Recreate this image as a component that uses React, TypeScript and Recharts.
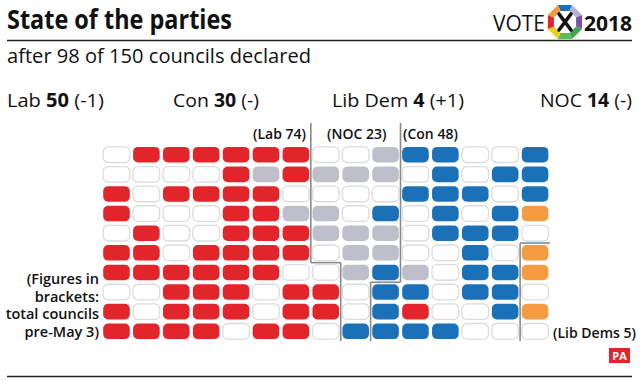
import React from 'react';
import { ScatterChart, Scatter, XAxis, YAxis, ReferenceLine } from 'recharts';

// Each string is one row of the waffle, one letter per council (15 columns, 10 rows)
// R = Lab, B = Con, G = NOC, O = Lib Dem, W = not yet declared
const gridRows = [
  'WRRRRRRWWGBBWWB',
  'WWWWRGRGGGWBWBB',
  'RWRRRRWWWWBBBWB',
  'RWWWRRGGWBWBWBO',
  'WRWWRRRGGGWBBBW',
  'RRWRRRRWGGWWBWO',
  'RRRRRRWWGBGWBBO',
  'WWRRRWRRWBBWBBW',
  'RWRRRWRRWBRWWBO',
  'RRRRWRRWBBBBWWW',
];
const partyCodes = ['W', 'R', 'B', 'G', 'O'];
const partyNames = ['Undeclared', 'Lab', 'Con', 'NOC', 'Lib Dem'];
const partyFills = ['#ffffff', '#e2252b', '#1b71b8', '#bfbecb', '#f59c42'];
const partyStrokes = ['#dcdcdc', '#e2252b', '#1b71b8', '#bfbecb', '#f59c42'];

const headlineParties = ['Lab', 'Con', 'Lib Dem', 'NOC'];
const headlineSeats = ['50', '30', '4', '14'];
const headlineChange = ['(-1)', '(-)', '(+1)', '(-)'];

// previous-control region boundaries in grid units
const labBoundary = [
  [7.5, -0.62, 7.5, 6.5],
  [7.5, 6.5, 8.5, 6.5],
  [8.5, 6.5, 8.5, 10.5],
];
const nocBoundary = [
  [10.5, -0.62, 10.5, 7.5],
  [10.5, 7.5, 9.5, 7.5],
  [9.5, 7.5, 9.5, 10.5],
];
const ldBoundary = [
  [14.5, 5.5, 14.5, 10.5],
  [14.5, 5.5, 15.5, 5.5],
];

const seriesData = partyCodes.map((code) => {
  const pts: { col: number; row: number }[] = [];
  gridRows.forEach((r, ri) => {
    r.split('').forEach((c, ci) => {
      if (c === code) pts.push({ col: ci + 1, row: ri + 1 });
    });
  });
  return pts;
});

const FONT = "'Open Sans', 'Noto Sans', sans-serif";

const makeShape = (fill: string, stroke: string) => (props: any) => {
  const { cx, cy } = props;
  if (cx == null || cy == null) return <g />;
  return (
    <rect
      x={cx - 13.3}
      y={cy - 7.8}
      width={26.6}
      height={15.6}
      rx={5}
      ry={5}
      fill={fill}
      stroke={stroke}
      strokeWidth={fill === '#ffffff' ? 1.3 : 0}
    />
  );
};

const Logo = () => {
  const cx = 565;
  const cy = 22;
  const ro = 18.5;
  const ri = 12;
  const cols = ['#1b71b8', '#b9b0d6', '#7b52a0', '#3ea653', '#5db95a', '#e6d21e', '#e2252b', '#f39a3c'];
  const pt = (r: number, a: number) => [cx + r * Math.cos(a), cy + r * Math.sin(a)];
  const segs = cols.map((c, k) => {
    const a0 = ((-112.5 + 45 * k) * Math.PI) / 180;
    const a1 = ((-67.5 + 45 * k) * Math.PI) / 180;
    const p = [pt(ro, a0), pt(ro, a1), pt(ri, a1), pt(ri, a0)];
    return <polygon key={k} points={p.map((q) => q.join(',')).join(' ')} fill={c} />;
  });
  return (
    <g>
      {segs}
      <path d={`M${cx - 6},${cy - 8} L${cx + 6},${cy + 8} M${cx + 6},${cy - 8} L${cx - 6},${cy + 8}`} stroke="#111" strokeWidth={3.6} strokeLinecap="round" />
    </g>
  );
};

const headX = [7, 173, 332, 540];
const headW = [97, 86, 132, 92];

export default function App() {
  return (
    <div style={{ position: 'absolute', left: 0, top: 0, width: 640, height: 381, background: '#fff', overflow: 'hidden' }}>
      <ScatterChart width={640} height={381} margin={{ top: 144.9, right: 90, left: 101.55, bottom: 39.9 }}>
        <XAxis type="number" dataKey="col" domain={[0.5, 15.5]} hide />
        <YAxis type="number" dataKey="row" domain={[0.5, 10.5]} reversed hide />
        {seriesData.map((d, i) => (
          <Scatter
            key={partyNames[i]}
            name={partyNames[i]}
            data={d}
            fill={partyFills[i]}
            shape={makeShape(partyFills[i], partyStrokes[i])}
            isAnimationActive={false}
          />
        ))}
        {[...labBoundary, ...nocBoundary, ...ldBoundary].map((s, i) => (
          <ReferenceLine
            key={i}
            segment={[{ x: s[0], y: s[1] }, { x: s[2], y: s[3] }]}
            stroke="#8a8a8a"
            strokeWidth={1.6}
            ifOverflow="visible"
          />
        ))}
      </ScatterChart>
      <svg width={640} height={381} style={{ position: 'absolute', left: 0, top: 0, pointerEvents: 'none' }} fontFamily={FONT}>
        <text x={7} y={29} fontSize={26} fontWeight={700} fill="#111" textLength={225} lengthAdjust="spacingAndGlyphs">State of the parties</text>
        <text x={493} y={31} fontSize={22} fontWeight={400} fill="#111" textLength={52} lengthAdjust="spacingAndGlyphs">VOTE</text>
        <Logo />
        <text x={584} y={31} fontSize={22} fontWeight={700} fill="#111" textLength={48} lengthAdjust="spacingAndGlyphs">2018</text>
        <line x1={7} x2={632} y1={40.5} y2={40.5} stroke="#222" strokeWidth={1.6} />
        <text x={7} y={63} fontSize={20} fontWeight={500} fill="#111" textLength={304} lengthAdjust="spacingAndGlyphs">after 98 of 150 councils declared</text>
        {headlineParties.map((p, i) => (
          <text key={p} x={headX[i]} y={107} fontSize={19} fontWeight={500} fill="#111" textLength={headW[i]} lengthAdjust="spacingAndGlyphs">
            {p + ' '}
            <tspan fontWeight={700}>{headlineSeats[i]}</tspan>
            {' ' + headlineChange[i]}
          </text>
        ))}
        <text x={306} y={139} fontSize={14} fontWeight={600} fill="#111" textAnchor="end">(Lab 74)</text>
        <text x={327} y={139} fontSize={14} fontWeight={600} fill="#111">(NOC 23)</text>
        <text x={403} y={139} fontSize={14} fontWeight={600} fill="#111">(Con 48)</text>
        <text x={553} y={338} fontSize={14} fontWeight={600} fill="#111">(Lib Dems 5)</text>
        {['(Figures in', 'brackets:', 'total councils', 'pre-May 3)'].map((t, i) => (
          <text key={t} x={99} y={284 + i * 17.5} fontSize={14.5} fontWeight={600} fill="#111" textAnchor="end">{t}</text>
        ))}
        <line x1={7} x2={632} y1={376.5} y2={376.5} stroke="#222" strokeWidth={1.6} />
        <rect x={609} y={348} width={21} height={15} fill="#e2252b" />
        <text x={619.5} y={360} fontSize={11} fontWeight={700} fill="#fff" textAnchor="middle">PA</text>
      </svg>
    </div>
  );
}
